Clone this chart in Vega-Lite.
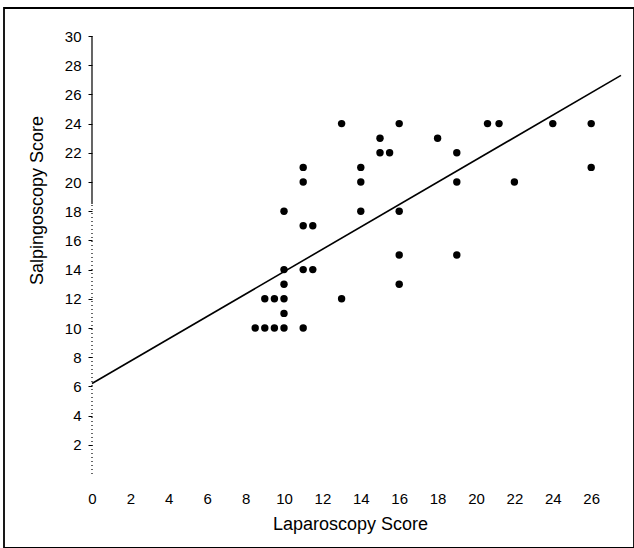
{
  "$schema": "https://vega.github.io/schema/vega-lite/v6.json",
  "width": 630,
  "height": 540,
  "autosize": {"type": "none"},
  "padding": {"left": 4, "top": 8, "right": 0, "bottom": 0},
  "background": "white",
  "config": {
    "view": {"stroke": "black", "strokeWidth": 1.8},
    "font": "Liberation Sans",
    "axis": {"labelColor": "black", "titleColor": "black", "labelFont": "Liberation Sans", "titleFont": "Liberation Sans"}
  },
  "datasets": {
    "axisline": [
      {"x": 0, "y": 0, "y2": 18.5, "style": "dotted"},
      {"x": 0, "y": 18.5, "y2": 30, "style": "solid"}
    ],
    "fit": [
      {"x": 0, "y": 6.2},
      {"x": 27.55, "y": 27.3}
    ],
    "points": [
      {"x": 8.5, "y": 10},
      {"x": 9, "y": 10}, {"x": 9, "y": 12},
      {"x": 9.5, "y": 10}, {"x": 9.5, "y": 12},
      {"x": 10, "y": 10}, {"x": 10, "y": 11}, {"x": 10, "y": 12}, {"x": 10, "y": 13}, {"x": 10, "y": 14}, {"x": 10, "y": 18},
      {"x": 11, "y": 10}, {"x": 11, "y": 14}, {"x": 11, "y": 17}, {"x": 11, "y": 20}, {"x": 11, "y": 21},
      {"x": 11.5, "y": 14}, {"x": 11.5, "y": 17},
      {"x": 13, "y": 12}, {"x": 13, "y": 24},
      {"x": 14, "y": 18}, {"x": 14, "y": 20}, {"x": 14, "y": 21},
      {"x": 15, "y": 22}, {"x": 15, "y": 23},
      {"x": 15.5, "y": 22},
      {"x": 16, "y": 13}, {"x": 16, "y": 15}, {"x": 16, "y": 18}, {"x": 16, "y": 24},
      {"x": 18, "y": 23},
      {"x": 19, "y": 15}, {"x": 19, "y": 20}, {"x": 19, "y": 22},
      {"x": 20.6, "y": 24},
      {"x": 21.2, "y": 24},
      {"x": 22, "y": 20},
      {"x": 24, "y": 24},
      {"x": 26, "y": 21}, {"x": 26, "y": 24}
    ]
  },
  "encoding": {
    "x": {
      "field": "x", "type": "quantitative",
      "scale": {"domain": [-4.583, 28.229], "nice": false, "zero": false},
      "axis": {
        "title": "Laparoscopy Score",
        "values": [0, 2, 4, 6, 8, 10, 12, 14, 16, 18, 20, 22, 24, 26],
        "offset": -74,
        "domain": false,
        "ticks": true,
        "tickSize": 0,
        "grid": false,
        "labelPadding": 17,
        "labelFontSize": 15,
        "labelBaseline": "top",
        "titleFontSize": 18,
        "titleFontWeight": "normal",
        "titleX": 346,
        "titleY": 50,
        "titleBaseline": "middle"
      }
    },
    "y": {
      "field": "y", "type": "quantitative",
      "scale": {"domain": [-5.068, 31.918], "nice": false, "zero": false},
      "axis": {
        "title": "Salpingoscopy Score",
        "values": [2, 4, 6, 8, 10, 12, 14, 16, 18, 20, 22, 24, 26, 28, 30],
        "offset": -88,
        "domain": false,
        "ticks": true,
        "tickSize": 4,
        "tickColor": "black",
        "grid": false,
        "labelPadding": 7,
        "labelFontSize": 15,
        "titleFontSize": 18,
        "titleFontWeight": "normal",
        "titleX": -55,
        "titleY": 192,
        "titleBaseline": "middle"
      }
    }
  },
  "layer": [
    {
      "data": {"name": "axisline"},
      "mark": {"type": "rule", "color": "black", "strokeWidth": 1.2},
      "encoding": {
        "y2": {"field": "y2"},
        "strokeDash": {"field": "style", "type": "nominal", "scale": {"domain": ["solid", "dotted"], "range": [[1, 0], [1, 3]]}, "legend": null}
      }
    },
    {
      "data": {"name": "fit"},
      "mark": {"type": "line", "color": "black", "strokeWidth": 1.6}
    },
    {
      "data": {"name": "points"},
      "mark": {"type": "circle", "color": "black", "opacity": 1, "size": 55}
    }
  ]
}
